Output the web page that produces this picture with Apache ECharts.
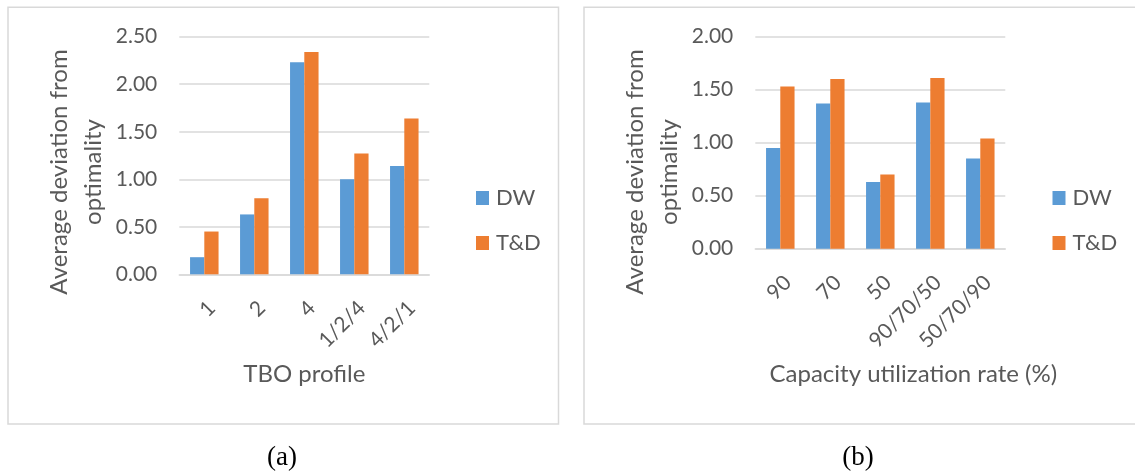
<!DOCTYPE html>
<html>
<head>
<meta charset="utf-8">
<title>Average deviation from optimality</title>
<script src="https://cdn.jsdelivr.net/npm/echarts@6/dist/echarts.min.js"></script>
<style>
  html, body { margin: 0; padding: 0; background: #ffffff; }
  #chart { width: 1135px; height: 476px; }
</style>
</head>
<body>
<div id="chart"></div>
<script>
// Panel (a): TBO profiles
const tboProfiles = ['1', '2', '4', '1/2/4', '4/2/1'];
const dwByTbo = [0.18, 0.63, 2.23, 1.00, 1.14];
const tdByTbo = [0.45, 0.80, 2.34, 1.27, 1.64];

// Panel (b): capacity utilization rates
const utilizationRates = ['90', '70', '50', '90/70/50', '50/70/90'];
const dwByRate = [0.95, 1.37, 0.63, 1.38, 0.85];
const tdByRate = [1.53, 1.60, 0.70, 1.61, 1.04];

const seriesNames = ['DW', 'T&D'];
const yTitle = 'Average deviation from\noptimality';

const BLUE = '#5B9BD5';
const ORANGE = '#ED7D31';
const GRID_GRAY = '#D9D9D9';
const TEXT = '#595959';
const FONT = 'Lato, "Open Sans", sans-serif';

function valueAxis(gridIndex, max) {
  return {
    type: 'value',
    gridIndex: gridIndex,
    min: 0,
    max: max,
    interval: 0.5,
    axisLine: { show: false },
    axisTick: { show: false },
    splitLine: { lineStyle: { color: GRID_GRAY, width: 1.6 } },
    axisLabel: {
      color: TEXT, fontFamily: FONT, fontSize: 21, margin: 22,
      formatter: v => v.toFixed(2)
    }
  };
}

function categoryAxis(gridIndex, data, title, gap, shift) {
  return {
    type: 'category',
    gridIndex: gridIndex,
    data: data,
    axisLine: { lineStyle: { color: GRID_GRAY, width: 1.6 } },
    axisTick: { show: false },
    axisLabel: {
      color: TEXT, fontFamily: FONT, fontSize: 21, rotate: 45,
      margin: 23, verticalAlign: 'top', interval: 0
    },
    name: title,
    nameLocation: 'middle',
    nameGap: gap,
    nameMoveOverlap: false,
    nameTextStyle: {
      color: TEXT, fontFamily: FONT, fontSize: 24,
      padding: [0, 0, 0, shift]
    }
  };
}

function barSeries(name, color, axisIndex, values) {
  return {
    type: 'bar',
    name: name,
    xAxisIndex: axisIndex,
    yAxisIndex: axisIndex,
    data: values,
    barGap: '0%',
    barCategoryGap: '43%',
    itemStyle: { color: color },
    emphasis: { disabled: true }
  };
}

function legendAt(left) {
  return {
    orient: 'vertical',
    left: left,
    top: 182,
    data: seriesNames,
    itemWidth: 13,
    itemHeight: 14,
    itemGap: 23,
    icon: 'rect',
    selectedMode: false,
    textStyle: { color: TEXT, fontFamily: FONT, fontSize: 22, padding: [0, 0, 0, 2] }
  };
}

function frame(x, y, w, h) {
  return {
    type: 'rect',
    shape: { x: x, y: y, width: w, height: h },
    style: { fill: null, stroke: GRID_GRAY, lineWidth: 1.5 },
    silent: true,
    z: -10
  };
}

function yAxisTitle(cx) {
  return {
    type: 'text',
    x: cx, y: 172,
    rotation: Math.PI / 2,
    style: {
      text: yTitle, fill: TEXT, font: '24px ' + FONT,
      align: 'center', verticalAlign: 'middle', lineHeight: 34
    },
    silent: true
  };
}

function caption(cx, label) {
  return {
    type: 'text',
    x: cx, y: 458,
    style: {
      text: label, fill: '#000000', font: '27px "Liberation Serif", "Times New Roman", serif',
      align: 'center', verticalAlign: 'middle'
    },
    silent: true
  };
}

const chart = echarts.init(document.getElementById('chart'), null, { renderer: 'canvas' });

chart.setOption({
  animation: false,
  backgroundColor: '#ffffff',
  grid: [
    { left: 179.3, top: 36.7, width: 250, height: 237.6, outerBoundsMode: 'none' },
    { left: 755.3, top: 36.7, width: 250, height: 212, outerBoundsMode: 'none' }
  ],
  xAxis: [
    categoryAxis(0, tboProfiles, 'TBO profile', 88, 0),
    categoryAxis(1, utilizationRates, 'Capacity utilization rate (%)', 114, 66)
  ],
  yAxis: [valueAxis(0, 2.5), valueAxis(1, 2)],
  legend: [legendAt(471), legendAt(1047.5)],
  series: [
    barSeries('DW', BLUE, 0, dwByTbo),
    barSeries('T&D', ORANGE, 0, tdByTbo),
    barSeries('DW', BLUE, 1, dwByRate),
    barSeries('T&D', ORANGE, 1, tdByRate)
  ],
  graphic: [
    frame(8, 7.3, 550.5, 416.7),
    frame(584, 7.3, 560, 416.7),
    yAxisTitle(75.8),
    yAxisTitle(652),
    caption(282, '(a)'),
    caption(858, '(b)')
  ]
});
</script>
</body>
</html>
